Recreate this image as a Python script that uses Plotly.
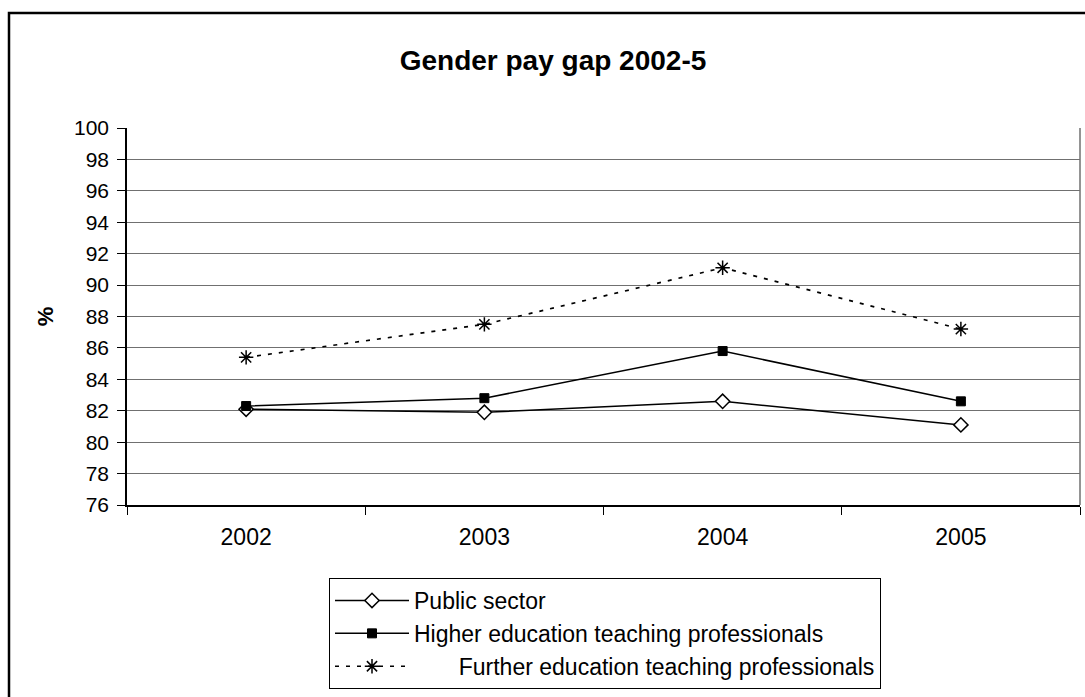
import plotly.graph_objects as go

years = ["2002", "2003", "2004", "2005"]
public_sector = [82.1, 81.9, 82.6, 81.1]
higher_ed = [82.3, 82.8, 85.8, 82.6]
further_ed = [85.4, 87.5, 91.1, 87.2]
y_ticks = list(range(76, 101, 2))

FONT = "Liberation Sans, Arial, sans-serif"

fig = go.Figure()
fig.add_trace(go.Scatter(
    x=years, y=public_sector, name="Public sector", mode="lines+markers",
    line=dict(color="black", width=1.5),
    marker=dict(symbol="diamond", size=11, color="white", line=dict(color="black", width=1.5)),
))
fig.add_trace(go.Scatter(
    x=years, y=higher_ed, name="Higher education teaching professionals", mode="lines+markers",
    line=dict(color="black", width=1.5),
    marker=dict(symbol="square", size=9, color="black", line=dict(color="black", width=1)),
))
fig.add_trace(go.Scatter(
    x=years, y=further_ed, name="       Further education teaching professionals", mode="lines+markers",
    line=dict(color="black", width=1.7, dash="4px,7px"),
    marker=dict(symbol="asterisk-open", size=12, color="black", line=dict(color="black", width=1.5)),
))

L, R, T, B = 127, 5, 128, 192
W, H = 1085, 697
pw = W - L - R
ph = H - T - B

def px_x(p):
    return (p - L) / pw

def px_y(p):
    return (H - B - p) / ph

fig.update_layout(
    width=W, height=H,
    margin=dict(l=L, r=R, t=T, b=B),
    paper_bgcolor="white", plot_bgcolor="white",
    font=dict(family=FONT, size=21, color="black"),
    title=dict(text="<b>Gender pay gap 2002-5</b>", xref="container", x=553 / W, xanchor="center",
               yref="container", y=1 - 60 / H, yanchor="middle", font=dict(size=28, family=FONT)),
    showlegend=True,
    legend=dict(
        x=px_x(329), xanchor="left", y=px_y(578), yanchor="top",
        bordercolor="black", borderwidth=1, bgcolor="white",
        font=dict(size=23, family=FONT), itemwidth=74,
        tracegroupgap=0,
    ),
    xaxis=dict(
        type="category", range=[-0.5, 3.5], showgrid=False,
        showline=True, linecolor="black", linewidth=1.5,
        ticks="outside", tickson="boundaries", ticklen=8, tickcolor="black",
        tickfont=dict(size=23), ticklabelstandoff=11,
    ),
    yaxis=dict(
        range=[76, 100], tickvals=y_ticks, ticktext=[str(v) for v in y_ticks],
        showgrid=True, gridcolor="#707070", gridwidth=1,
        showline=True, linecolor="black", linewidth=1.5,
        ticks="outside", ticklen=8, tickcolor="black",
        tickfont=dict(size=21), ticklabelstandoff=4,
        title=dict(text="<b>%</b>", font=dict(size=22), standoff=14),
        zeroline=False,
    ),
    shapes=[
        dict(type="line", xref="paper", yref="paper", x0=1, x1=1, y0=0, y1=1,
             line=dict(color="#707070", width=1.5)),
        dict(type="rect", xref="paper", yref="paper",
             x0=px_x(9), x1=px_x(1100), y0=px_y(720), y1=px_y(13),
             line=dict(color="black", width=2.5), fillcolor="rgba(0,0,0,0)", layer="below"),
    ],
)

fig.write_html("out.html")
